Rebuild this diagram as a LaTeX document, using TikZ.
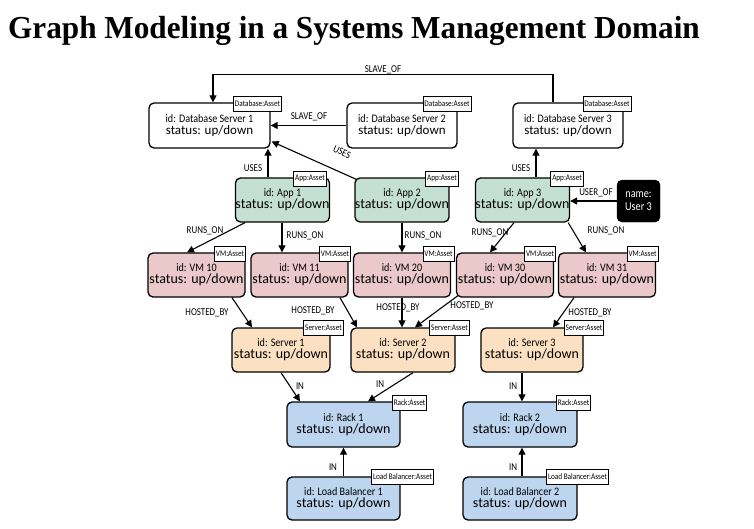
\documentclass[tikz,border=0pt]{standalone}
\usepackage{fontspec}
\setmainfont{Carlito}
\newfontfamily\titlefont{Liberation Serif}
\usetikzlibrary{arrows.meta}
\definecolor{appg}{HTML}{C4E0D4}
\definecolor{vmp}{HTML}{EBC8C9}
\definecolor{srvo}{HTML}{FCE0C2}
\definecolor{rackb}{HTML}{BDD5EE}
\newcommand\idtxt[1]{{\fontsize{11.5}{13}\selectfont\scalebox{0.88}[1]{#1}}}
\newcommand\sttxt[1]{{\fontsize{13}{14}\selectfont #1}}
\newcommand\stbig[1]{{\fontsize{14}{15}\selectfont #1}}
\newcommand\lbl[1]{\scalebox{0.85}[1]{#1}}
\tikzset{
  box/.style={draw, line width=1.3pt, rounded corners=5pt, minimum height=45, align=center, inner sep=0pt},
  tag/.style={draw, line width=0.8pt, fill=white, inner sep=1.5pt, minimum height=15, font=\fontsize{8.5}{9}\selectfont},
  arr/.style={line width=1.1pt, -{Triangle[length=7pt,width=7pt]}},
  elab/.style={font=\fontsize{10.5}{11}\selectfont, inner sep=0pt},
}
\begin{document}
\begin{tikzpicture}[x=1pt,y=-1pt]
\useasboundingbox[fill=white] (0,0) rectangle (754,528);
\node[anchor=base west, inner sep=0pt, font=\titlefont\bfseries\fontsize{32}{34}\selectfont] (title) at (8,38) {\scalebox{0.975}[1]{Graph Modeling in a Systems Management Domain}};

% databases
\node[box, fill=white, minimum width=121] (db1) at (209.5,125.5) {\idtxt{id: Database Server 1}\\\sttxt{status: up/down}};
\node[box, fill=white, minimum width=110] (db2) at (402,125.5) {\idtxt{id: Database Server 2}\\\sttxt{status: up/down}};
\node[box, fill=white, minimum width=110] (db3) at (568,125.5) {\idtxt{id: Database Server 3}\\\sttxt{status: up/down}};
\node[tag] (db1t) at (257.5,103.5) {\scalebox{0.85}[1]{Database:Asset}};
\node[tag] (db2t) at (447,103.5) {\scalebox{0.85}[1]{Database:Asset}};
\node[tag] (db3t) at (607,103.5) {\scalebox{0.85}[1]{Database:Asset}};

% apps
\node[box, fill=appg, minimum width=89, minimum height=44] (app1) at (282.5,200) {\idtxt{id: App 1}\\\stbig{status: up/down}};
\node[box, fill=appg, minimum width=90, minimum height=44] (app2) at (402,200) {\idtxt{id: App 2}\\\stbig{status: up/down}};
\node[box, fill=appg, minimum width=89, minimum height=44] (app3) at (522.5,200) {\idtxt{id: App 3}\\\stbig{status: up/down}};
\node[tag] (app1t) at (310,178.5) {\scalebox{0.85}[1]{App:Asset}};
\node[tag] (app2t) at (442,178.5) {\scalebox{0.85}[1]{App:Asset}};
\node[tag] (app3t) at (567,178.5) {\scalebox{0.85}[1]{App:Asset}};
\node[draw, fill=black, rounded corners=5pt, minimum width=43, minimum height=42, align=center, inner sep=0pt, text=white, font=\fontsize{12}{13}\selectfont] (user3) at (638.5,201) {\scalebox{0.85}[1]{name:}\\\scalebox{0.85}[1]{User 3}};

% VMs
\node[box, fill=vmp, minimum width=97, minimum height=44] (vm10) at (196.5,275) {\idtxt{id: VM 10}\\\stbig{status: up/down}};
\node[box, fill=vmp, minimum width=97, minimum height=44] (vm11) at (299.5,275) {\idtxt{id: VM 11}\\\stbig{status: up/down}};
\node[box, fill=vmp, minimum width=97, minimum height=44] (vm20) at (402,275) {\idtxt{id: VM 20}\\\stbig{status: up/down}};
\node[box, fill=vmp, minimum width=97, minimum height=44] (vm30) at (505,275) {\idtxt{id: VM 30}\\\stbig{status: up/down}};
\node[box, fill=vmp, minimum width=97, minimum height=44] (vm31) at (607,275) {\idtxt{id: VM 31}\\\stbig{status: up/down}};
\node[tag] (vm10t) at (230,254) {\scalebox{0.85}[1]{VM:Asset}};
\node[tag] (vm11t) at (335,254) {\scalebox{0.85}[1]{VM:Asset}};
\node[tag] (vm20t) at (438.5,254) {\scalebox{0.85}[1]{VM:Asset}};
\node[tag] (vm30t) at (540,254) {\scalebox{0.85}[1]{VM:Asset}};
\node[tag] (vm31t) at (642.5,254) {\scalebox{0.85}[1]{VM:Asset}};

% servers
\node[box, fill=srvo, minimum width=98, minimum height=44] (srv1) at (281,350) {\idtxt{id: Server 1}\\\stbig{status: up/down}};
\node[box, fill=srvo, minimum width=104, minimum height=44] (srv2) at (403,350) {\idtxt{id: Server 2}\\\stbig{status: up/down}};
\node[box, fill=srvo, minimum width=102, minimum height=44] (srv3) at (532,350) {\idtxt{id: Server 3}\\\stbig{status: up/down}};
\node[tag] (srv1t) at (323.5,328) {\scalebox{0.85}[1]{Server:Asset}};
\node[tag] (srv2t) at (449.5,328) {\scalebox{0.85}[1]{Server:Asset}};
\node[tag] (srv3t) at (584,328) {\scalebox{0.85}[1]{Server:Asset}};

% racks
\node[box, fill=rackb, minimum width=113] (rack1) at (343.5,424.5) {\idtxt{id: Rack 1}\\\stbig{status: up/down}};
\node[box, fill=rackb, minimum width=114] (rack2) at (520,424.5) {\idtxt{id: Rack 2}\\\stbig{status: up/down}};
\node[tag] (rack1t) at (409.5,402.5) {\scalebox{0.85}[1]{Rack:Asset}};
\node[tag] (rack2t) at (573.5,402.5) {\scalebox{0.85}[1]{Rack:Asset}};

% load balancers
\node[box, fill=rackb, minimum width=113, minimum height=43] (lb1) at (343.5,498.5) {\idtxt{id: Load Balancer 1}\\\stbig{status: up/down}};
\node[box, fill=rackb, minimum width=114, minimum height=43] (lb2) at (520,498.5) {\idtxt{id: Load Balancer 2}\\\stbig{status: up/down}};
\node[tag] (lb1t) at (402.5,476.5) {\scalebox{0.85}[1]{Load Balancer:Asset}};
\node[tag] (lb2t) at (577.5,476.5) {\scalebox{0.85}[1]{Load Balancer:Asset}};

% edges
\draw[arr] ([xshift=-15]db3.north) -- ++(0,-28) -| ([xshift=3.5]db1.north);
\node[elab] (l1) at (383,70) {\lbl{SLAVE\_OF}};
\draw[arr] (db2.west) -- (db2.west -| db1.east);
\node[elab] (l2) at (309,117) {\lbl{SLAVE\_OF}};
\draw[arr] ([xshift=-14.5]app1.north) -- ([xshift=-14.5]app1.north |- db1.south);
\node[elab] (l3) at (253,168) {\lbl{USES}};
\draw[arr] ([xshift=2,yshift=-2]app2.north west) -- ([xshift=1,yshift=-16]db1.east);
\node[elab, rotate=-25] (l4) at (342,152) {\lbl{USES}};
\draw[arr] ([xshift=13.5]app3.north) -- ([xshift=13.5]app3.north |- db3.south);
\node[elab] (l5) at (521,168) {\lbl{USES}};
\draw[arr] (user3.west) -- (user3.west -| app3.east);
\node[elab] (l6) at (596,193) {\lbl{USER\_OF}};

\draw[arr] ([xshift=-37.5]app1.south) -- ([xshift=-9.5]vm10.north);
\node[elab] (l7) at (205,231) {\lbl{RUNS\_ON}};
\draw[arr] ([xshift=-0.5]app1.south) -- ([xshift=-17.5]vm11.north);
\node[elab] (l8) at (305,236) {\lbl{RUNS\_ON}};
\draw[arr] (app2.south) -- (vm20.north);
\node[elab] (l9) at (423,236) {\lbl{RUNS\_ON}};
\draw[arr] ([xshift=-8.5]app3.south) -- ([xshift=-15]vm30.north);
\node[elab] (l10) at (490,233) {\lbl{RUNS\_ON}};
\draw[arr] ([xshift=-2]app3.south east) -- ([xshift=-21]vm31.north);
\node[elab] (l11) at (606,231) {\lbl{RUNS\_ON}};

\draw[arr] ([xshift=35.5]vm10.south) -- ([xshift=-29]srv1.north);
\node[elab] (l12) at (207,313) {\lbl{HOSTED\_BY}};
\draw[arr] ([xshift=40.5]vm11.south) -- ([xshift=-46]srv2.north);
\node[elab] (l13) at (313,311) {\lbl{HOSTED\_BY}};
\draw[arr] (vm20.south) -- (vm20.south |- srv2.north);
\node[elab] (l14) at (398,308) {\lbl{HOSTED\_BY}};
\draw[arr] ([xshift=2,yshift=2]vm30.south west) -- ([xshift=12]srv2.north);
\node[elab] (l15) at (472,306) {\lbl{HOSTED\_BY}};
\draw[arr] ([xshift=-33]vm31.south) -- ([xshift=21]srv3.north);
\node[elab] (l16) at (590,313) {\lbl{HOSTED\_BY}};

\draw[arr] (srv1.south) -- ([xshift=-43.5]rack1.north);
\node[elab] (l17) at (300,386) {\lbl{IN}};
\draw[arr] ([xshift=10]srv2.south) -- ([xshift=24.5]rack1.north);
\node[elab] (l18) at (380,384) {\lbl{IN}};
\draw[arr] ([xshift=2]rack2.north |- srv3.south) -- ([xshift=2]rack2.north);
\node[elab] (l19) at (513,386) {\lbl{IN}};
\draw[arr] (lb1.north) -- (rack1.south);
\node[elab] (l20) at (333,467) {\lbl{IN}};
\draw[arr] ([xshift=2]lb2.north) -- ([xshift=2]rack2.south);
\node[elab] (l21) at (513,467) {\lbl{IN}};
\end{tikzpicture}
\end{document}
